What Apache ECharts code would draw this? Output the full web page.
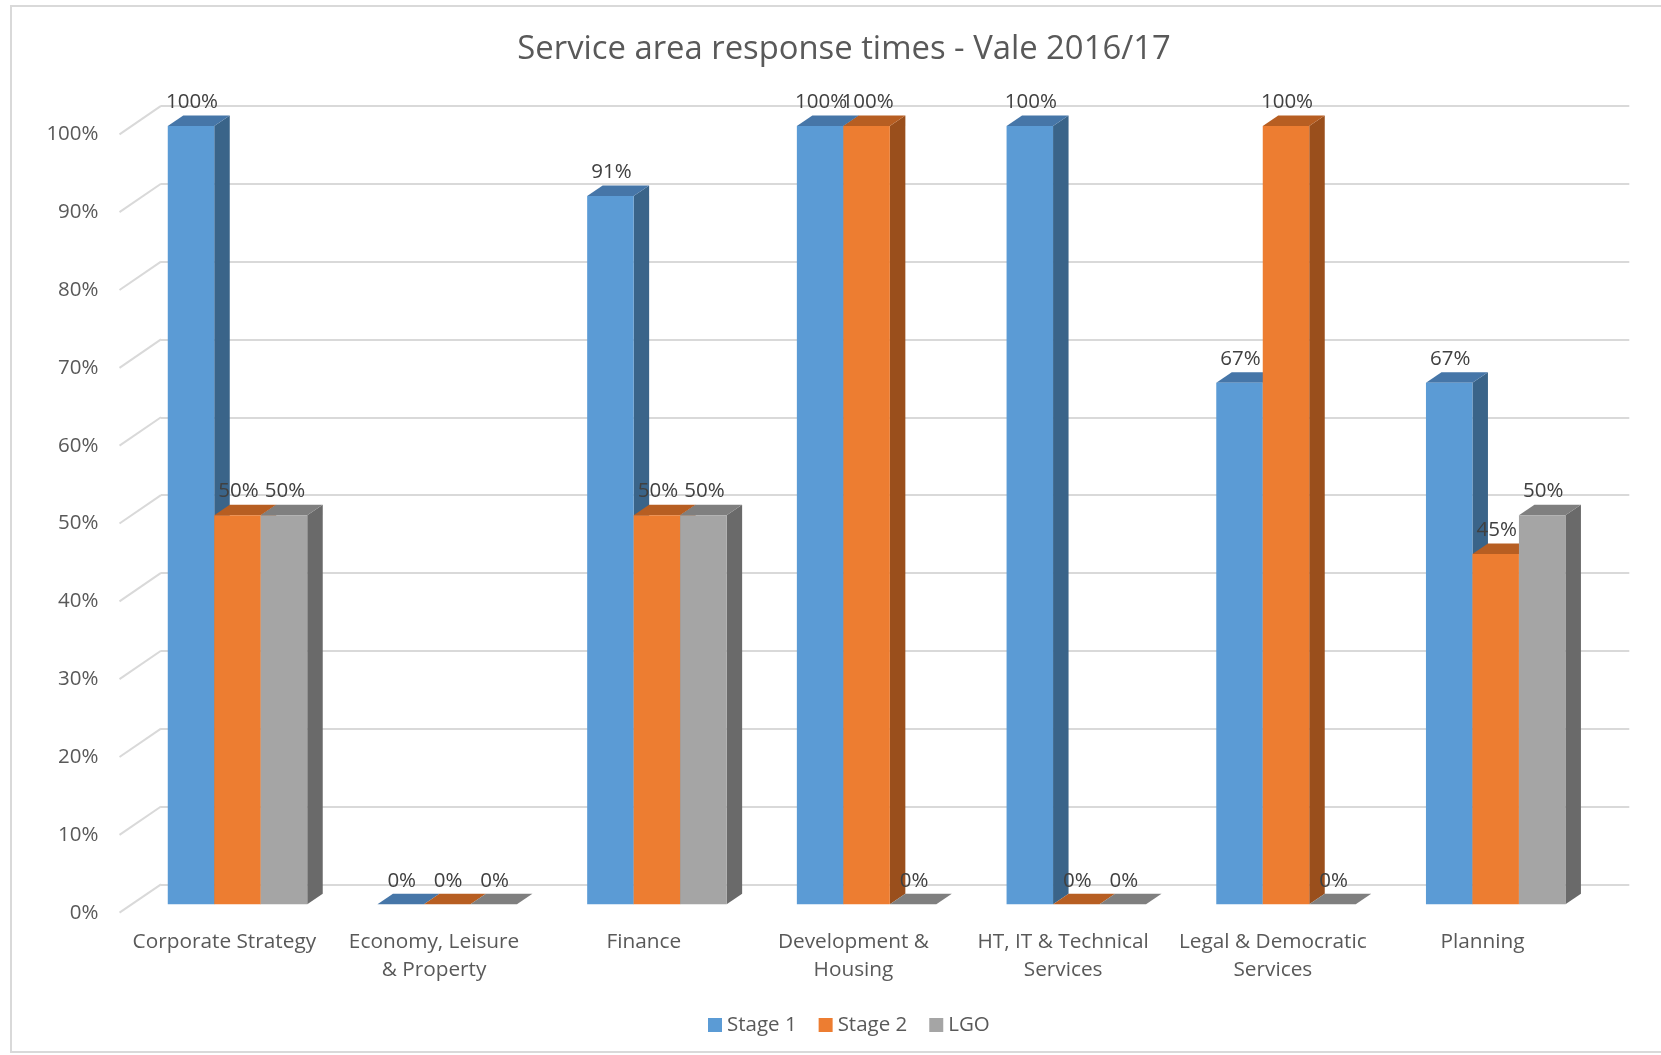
<!DOCTYPE html>
<html>
<head>
<meta charset="utf-8">
<title>Service area response times - Vale 2016/17</title>
<script src="https://cdn.jsdelivr.net/npm/echarts@6/dist/echarts.min.js"></script>
<style>
  html, body { margin: 0; padding: 0; background: #ffffff; }
  #chart { width: 1661px; height: 1055px; }
</style>
</head>
<body>
<div id="chart"></div>
<script>
// ---- data ----
const categories = [
  'Corporate Strategy',
  'Economy, Leisure\n& Property',
  'Finance',
  'Development &\nHousing',
  'HT, IT & Technical\nServices',
  'Legal & Democratic\nServices',
  'Planning'
];
const stage1 = [100, 0, 91, 100, 100, 67, 67];
const stage2 = [50, 0, 50, 100, 0, 100, 45];
const lgo = [50, 0, 50, 0, 0, 0, 50];
const seriesNames = ['Stage 1', 'Stage 2', 'LGO'];
const yTicks = [0, 10, 20, 30, 40, 50, 60, 70, 80, 90, 100];

// ---- styling ----
const FONT = "'Open Sans', 'Noto Sans', sans-serif";
const TEXT_COLOR = '#595959';
const LABEL_COLOR = '#404040';
const GRID_COLOR = '#d9d9d9';
const FACE_COLORS = [
  { front: '#5B9BD5', top: '#4676A8', side: '#3A6489' },
  { front: '#ED7D31', top: '#B75E22', side: '#9A4F1C' },
  { front: '#A5A5A5', top: '#7F7F7F', side: '#6A6A6A' }
];
const BAR_RATIO = 0.2217;    // width of one bar as a share of the category band
const DEPTH_DX = 15.5;       // oblique depth of a column
const DEPTH_DY = -10.5;
const WALL_DX = 41.5;        // depth of the side wall / floor
const WALL_DY = -28.4;

const chart = echarts.init(document.getElementById('chart'), null, { renderer: 'canvas' });

// horizontal extent of one column inside its category cluster
function barBox(api, seriesIdx) {
  const i = api.value(0);
  const v = api.value(1);
  const topPt = api.coord([i, v]);
  const basePt = api.coord([i, 0]);
  const bw = api.size([1, 0])[0] * BAR_RATIO;
  const x0 = topPt[0] - 1.5 * bw + seriesIdx * bw;
  return { v: v, x0: x0, x1: x0 + bw, bw: bw, yt: topPt[1], yb: basePt[1] };
}

function barRenderer(seriesIdx) {
  const c = FACE_COLORS[seriesIdx];
  return function (params, api) {
    const b = barBox(api, seriesIdx);
    return {
      type: 'group',
      children: [
        {
          type: 'polygon',
          shape: { points: [[b.x1, b.yt], [b.x1 + DEPTH_DX, b.yt + DEPTH_DY], [b.x1 + DEPTH_DX, b.yb + DEPTH_DY], [b.x1, b.yb]] },
          style: { fill: c.side }
        },
        {
          type: 'polygon',
          shape: { points: [[b.x0, b.yt], [b.x0 + DEPTH_DX, b.yt + DEPTH_DY], [b.x1 + DEPTH_DX, b.yt + DEPTH_DY], [b.x1, b.yt]] },
          style: { fill: c.top }
        },
        {
          type: 'rect',
          shape: { x: b.x0, y: b.yt, width: b.bw, height: b.yb - b.yt },
          style: { fill: c.front }
        }
      ]
    };
  };
}

function labelRenderer(seriesIdx) {
  return function (params, api) {
    const b = barBox(api, seriesIdx);
    return {
      type: 'text',
      style: {
        text: b.v + '%',
        x: (b.x0 + b.x1) / 2 + 1,
        y: b.yt - 23.6,
        align: 'center',
        verticalAlign: 'middle',
        fontFamily: FONT,
        fontSize: 20.5,
        fill: LABEL_COLOR
      }
    };
  };
}

function wallEdgeRenderer(params, api) {
  const y = api.coord([0, api.value(1)])[1];
  const x = params.coordSys.x;
  return {
    type: 'line',
    shape: { x1: x, y1: y, x2: x + WALL_DX, y2: y + WALL_DY },
    style: { stroke: GRID_COLOR, lineWidth: 2 }
  };
}

const seriesValues = [stage1, stage2, lgo];

const barSeries = seriesNames.map((name, s) => ({
  type: 'custom',
  name: name,
  xAxisIndex: 0,
  yAxisIndex: 0,
  z: 2,
  itemStyle: { color: FACE_COLORS[s].front },
  renderItem: barRenderer(s),
  encode: { x: 0, y: 1 },
  data: seriesValues[s].map((v, i) => [i, v])
}));

// value labels sit on their own layer above every column face
const labelSeries = seriesNames.map((name, s) => ({
  type: 'custom',
  name: name + ' labels',
  xAxisIndex: 0,
  yAxisIndex: 0,
  zlevel: 1,
  z: 5,
  silent: true,
  renderItem: labelRenderer(s),
  encode: { x: 0, y: 1 },
  data: seriesValues[s].map((v, i) => [i, v])
}));

const option = {
  animation: false,
  backgroundColor: '#ffffff',
  title: {
    text: 'Service area response times - Vale 2016/17',
    left: 844,
    top: 30,
    padding: 0,
    textAlign: 'center',
    textStyle: {
      fontFamily: FONT,
      fontSize: 32.8,
      fontWeight: 'normal',
      color: TEXT_COLOR,
      lineHeight: 40
    }
  },
  legend: {
    data: seriesNames,
    left: 708,
    top: 1013,
    padding: 0,
    icon: 'rect',
    itemWidth: 14,
    itemHeight: 14,
    itemGap: 22,
    textStyle: { fontFamily: FONT, fontSize: 20.5, color: TEXT_COLOR, lineHeight: 24 }
  },
  graphic: [
    {
      type: 'rect',
      shape: { x: 11, y: 6, width: 1700, height: 1046 },
      style: { fill: 'none', stroke: GRID_COLOR, lineWidth: 2 },
      silent: true,
      z: -10
    }
  ],
  grid: [
    // front plane of the columns
    { left: 132.65, top: 126, width: 1467.9, height: 778.3 },
    // back wall with the gridlines
    { left: 161, top: 106, width: 1468.3, height: 778.3 },
    // front edge of the floor: axis labels
    { left: 119.5, top: 134.3, width: 1467.9, height: 778.4 }
  ],
  xAxis: [
    { gridIndex: 0, type: 'category', data: categories, show: false },
    { gridIndex: 1, type: 'category', data: categories, show: false },
    {
      gridIndex: 2, type: 'category', data: categories,
      axisLine: { show: false }, axisTick: { show: false },
      axisLabel: {
        interval: 0, margin: 16, color: TEXT_COLOR,
        fontFamily: FONT, fontSize: 20.8, lineHeight: 27.7
      }
    }
  ],
  yAxis: [
    { gridIndex: 0, type: 'value', min: 0, max: 100, interval: 10, show: false },
    {
      gridIndex: 1, type: 'value', min: 0, max: 100, interval: 10,
      axisLine: { show: false }, axisTick: { show: false }, axisLabel: { show: false },
      splitLine: { show: true, lineStyle: { color: GRID_COLOR, width: 2 } }
    },
    {
      gridIndex: 2, type: 'value', min: 0, max: 100, interval: 10,
      axisLine: { show: false }, axisTick: { show: false }, splitLine: { show: false },
      axisLabel: {
        formatter: '{value}%', margin: 21, color: TEXT_COLOR,
        fontFamily: FONT, fontSize: 20.5, padding: [5, 0, 0, 0]
      }
    }
  ],
  series: [
    {
      type: 'custom',
      name: 'wall',
      xAxisIndex: 2,
      yAxisIndex: 2,
      z: 1,
      silent: true,
      renderItem: wallEdgeRenderer,
      data: yTicks.map(v => [0, v])
    }
  ].concat(barSeries, labelSeries)
};

chart.setOption(option);
</script>
</body>
</html>
